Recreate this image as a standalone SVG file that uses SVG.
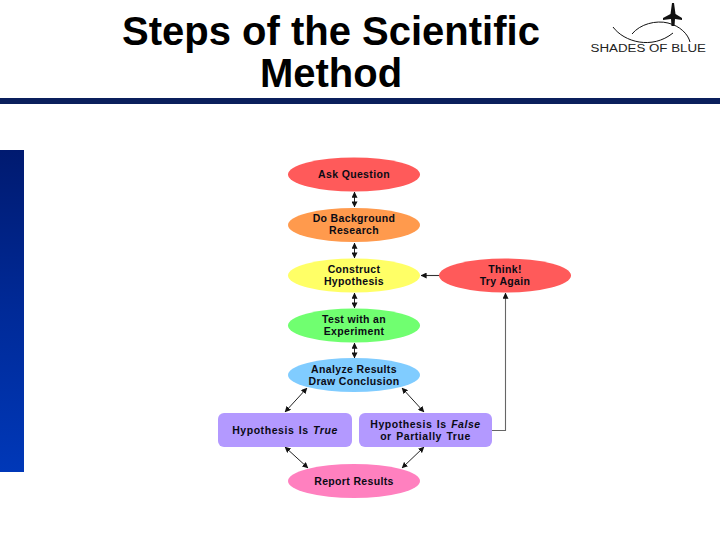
<svg xmlns="http://www.w3.org/2000/svg" width="720" height="540" viewBox="0 0 720 540">
<style>
.t{font-family:"Liberation Sans",Arial,sans-serif;font-weight:bold;font-size:10.5px;letter-spacing:.35px;text-anchor:middle;fill:#0a0a14}
.w{letter-spacing:.55px;word-spacing:1px}
.h{font-family:"Liberation Sans",Arial,sans-serif;font-weight:bold;font-size:40px;text-anchor:middle;fill:#000}
.c{fill:none;stroke:#222;stroke-width:1;marker-start:url(#a);marker-end:url(#a)}
.o{fill:none;stroke:#333;stroke-width:1.1;marker-end:url(#a)}
.g{fill:none;stroke:#666;stroke-width:1.1;marker-end:url(#a)}
.l{fill:none;stroke:#111}
</style>
<defs>
<marker id="a" viewBox="0 0 8 8" refX="7.500" refY="4" markerWidth="6" markerHeight="6" markerUnits="userSpaceOnUse" orient="auto-start-reverse"><path d="M0 0L8 4L0 8Z" fill="#111"/></marker>
<linearGradient id="b" x1="0" y1="0" x2="0" y2="1"><stop offset="0" stop-color="#001a70"/><stop offset=".5" stop-color="#002a98"/><stop offset="1" stop-color="#0038b8"/></linearGradient>
</defs>
<rect width="720" height="540" fill="#fff"/>
<g id="title"><text class="h" x="331" y="45">Steps of the Scientific</text><text class="h" x="331" y="87">Method</text></g>
<rect id="rule" x="0" y="98" width="720" height="6" fill="#0a1f5c"/>
<rect id="sidebar" x="0" y="150" width="24" height="322" fill="url(#b)"/>
<g id="logo">
<path class="l" d="M613 27C624 42 652 50 673 33"/>
<path class="l" d="M632 34C640 24 656 20 668 23C680 26 688 34 690 42"/>
<path d="M672 3L674 3L675.500 14L682 18L682 20L675 19L674.500 26L671.500 26L671 19L663 20L663 18L670.500 14Z" fill="#111"/>
<text x="590.500" y="52" font-family="'Liberation Sans',Arial,sans-serif" font-size="10" textLength="115.500" lengthAdjust="spacingAndGlyphs" fill="#222">SHADES OF BLUE</text>
</g>
<g id="connectors">
<path class="c" d="M354.500 192V207"/>
<path class="c" d="M354.500 243V258"/>
<path class="c" d="M354.500 293V308"/>
<path class="c" d="M354.500 343V358"/>
<path class="c" d="M307 388L285 412"/>
<path class="c" d="M402 388L424 412"/>
<path class="c" d="M285 447L308 468"/>
<path class="c" d="M424 447L402 468"/>
<path class="o" d="M439 275.500H421"/>
<path class="g" d="M492 430.500H505.500V293"/>
</g>
<g id="ask"><ellipse cx="354" cy="174.500" rx="66" ry="17" fill="#ff5a5a"/><text class="t" x="354" y="178">Ask Question</text></g>
<g id="research"><ellipse cx="354" cy="225" rx="66" ry="17" fill="#ff9a4d"/><text class="t" x="354" y="222">Do Background</text><text class="t" x="354" y="234">Research</text></g>
<g id="hypothesis"><ellipse cx="354" cy="275.500" rx="66" ry="17" fill="#ffff66"/><text class="t" x="354" y="273">Construct</text><text class="t" x="354" y="285">Hypothesis</text></g>
<g id="think"><ellipse cx="505" cy="275.500" rx="66" ry="17" fill="#ff5a5a"/><text class="t" x="505" y="273">Think!</text><text class="t" x="505" y="285">Try Again</text></g>
<g id="test"><ellipse cx="354" cy="325.500" rx="66" ry="17" fill="#70ff70"/><text class="t" x="354" y="323">Test with an</text><text class="t" x="354" y="335">Experiment</text></g>
<g id="analyze"><ellipse cx="354" cy="375" rx="66" ry="17" fill="#80ccff"/><text class="t" x="354" y="373">Analyze Results</text><text class="t" x="354" y="385">Draw Conclusion</text></g>
<g id="true"><rect x="218" y="413" width="134" height="34" rx="6" fill="#b399ff"/><text class="t w" x="285" y="434">Hypothesis Is <tspan font-style="italic">True</tspan></text></g>
<g id="false"><rect x="359" y="413" width="133" height="34" rx="6" fill="#b399ff"/><text class="t w" x="425.500" y="428">Hypothesis Is <tspan font-style="italic">False</tspan></text><text class="t w" x="425.500" y="440">or Partially True</text></g>
<g id="report"><ellipse cx="354" cy="481" rx="66" ry="17" fill="#ff80bf"/><text class="t" x="354" y="485">Report Results</text></g>
</svg>
